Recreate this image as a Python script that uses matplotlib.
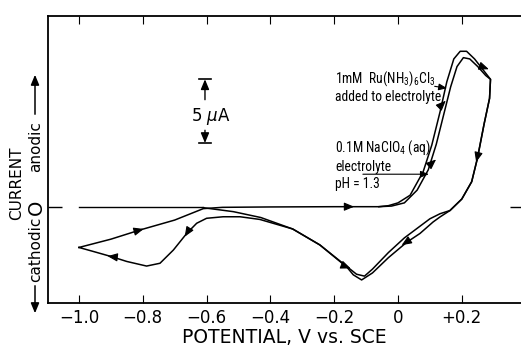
import matplotlib
matplotlib.use("Agg")
import matplotlib.pyplot as plt
from matplotlib import font_manager
import numpy as np

# ---------------- data (V vs SCE, microamps) ----------------
# Ru(NH3)6Cl3 added (outer loop), traced in sweep order
ru_v = [-1.0, -0.9, -0.809, -0.7, -0.61, -0.55, -0.4, -0.2, -0.06, -0.03, 0.0, 0.038, 0.079, 0.106,
        0.132, 0.153, 0.175, 0.195, 0.215, 0.24, 0.265, 0.29, 0.287, 0.27, 0.249, 0.231, 0.2,
        0.163, 0.132, 0.11, 0.069, 0.027, -0.03, -0.08, -0.114, -0.14, -0.16, -0.245, -0.33,
        -0.433, -0.495, -0.548, -0.6, -0.631, -0.662, -0.704, -0.746, -0.788, -0.85, -0.898,
        -0.95, -1.0]
ru_i = [-3.2, -2.55, -1.83, -1.05, -0.15, -0.05, -0.02, 0.0, 0.0, 0.08, 0.3, 0.9, 2.75, 4.84,
        7.46, 9.8, 11.6, 12.2, 12.2, 11.6, 10.8, 10.0, 8.5, 6.5, 3.8, 1.96, 0.6,
        -0.3, -0.8, -1.2, -2.1, -2.8, -4.0, -5.2, -5.75, -5.35, -4.75, -3.0, -1.75,
        -1.0, -0.79, -0.79, -0.91, -1.3, -2.09, -3.4, -4.44, -4.66, -4.3, -3.92,
        -3.55, -3.2]

# 0.1 M NaClO4 electrolyte only (inner loop)
bg_v = [-0.06, -0.02, 0.02, 0.06, 0.095, 0.12, 0.145, 0.165, 0.185, 0.205, 0.225, 0.25, 0.275,
        0.29, 0.287, 0.27, 0.249, 0.231, 0.2, 0.163, 0.132, 0.10, 0.06, 0.02, -0.03, -0.08,
        -0.105, -0.13, -0.16, -0.245, -0.33, -0.43, -0.516, -0.61]
bg_i = [0.0, 0.05, 0.3, 1.3, 2.9, 4.9, 7.4, 9.4, 11.0, 11.7, 11.6, 11.0, 10.3,
        10.0, 8.5, 6.5, 3.8, 1.96, 0.6, -0.3, -0.55, -0.95, -1.7, -2.45, -3.6, -4.9,
        -5.45, -5.3, -4.7, -3.0, -1.75, -0.85, -0.39, -0.08]

# zero-current segment at start of sweep
zero_v = [-1.0, -0.61]
zero_i = [0.0, 0.0]

# direction arrows on the traces: position and direction
arrow_x = [-0.15, 0.141, 0.11, 0.273, 0.248, 0.022, -0.16, -0.662, -0.898, -0.809]
arrow_y = [0.0, 8.1, 3.5, 10.9, 3.8, -2.85, -4.73, -2.09, -3.92, -1.83]
arrow_dx = [1.0, 0.1, 0.1, 0.1, -0.02, -0.1, 0.1, -0.05, -0.1, 0.1]
arrow_dy = [0.0, 2.5, 2.2, -0.9, -2.0, -1.6, -1.0, -2.0, 0.3, 0.7]

xticks = [-1.0, -0.8, -0.6, -0.4, -0.2, 0.0, 0.2]
xticklabels = ["\u22121.0", "\u22120.8", "\u22120.6", "\u22120.4", "\u22120.2", "0", "+0.2"]

label_ru = "1mM  Ru(NH$_3$)$_6$Cl$_3$\nadded to electrolyte"
label_bg = "0.1M NaClO$_4$ (aq)\nelectrolyte\npH = 1.3"

# pick the narrowest installed sans family for the curve labels
installed = {f.name for f in font_manager.fontManager.ttflist}
LABEL_FONT = "DejaVu Sans"
for cand in ["Liberation Sans Narrow", "DejaVu Sans Condensed", "Roboto Condensed",
             "Liberation Sans", "Roboto"]:
    if cand in installed:
        LABEL_FONT = cand
        break
plt.rcParams["mathtext.fontset"] = "custom"
plt.rcParams["mathtext.rm"] = LABEL_FONT
plt.rcParams["mathtext.it"] = LABEL_FONT
plt.rcParams["mathtext.bf"] = LABEL_FONT

# ---------------- figure ----------------
W, H = 521, 350
fig = plt.figure(figsize=(W / 100, H / 100), dpi=100)
ax = fig.add_axes([47.7 / W, 1 - 303 / H, 1 - 47.7 / W, (303 - 16) / H])
ax.set_xlim(-1.098, 0.3856)
ax.set_ylim(-7.56, 14.97)

lw = 1.1
ax.plot(ru_v, ru_i, color="black", lw=lw, solid_joinstyle="round")
ax.plot(bg_v, bg_i, color="black", lw=lw, solid_joinstyle="round")
ax.plot(zero_v, zero_i, color="black", lw=1.0)

# arrowheads
ysc = (14.97 + 7.56) / 287.0  # data per px (y)
xsc = (0.3856 + 1.098) / (521 - 47.7)  # data per px (x)
for x, y, dx, dy in zip(arrow_x, arrow_y, arrow_dx, arrow_dy):
    px, py = dx / xsc, dy / ysc
    n = np.hypot(px, py)
    ux, uy = px / n, py / n
    L = 4.0
    ax.annotate("", xy=(x + ux * L * xsc, y + uy * L * ysc),
                xytext=(x - ux * L * xsc, y - uy * L * ysc),
                arrowprops=dict(arrowstyle="-|>,head_length=0.6,head_width=0.25",
                                color="black", lw=0.8, shrinkA=0, shrinkB=0))

# spines / ticks
for s in ["left", "top", "bottom"]:
    ax.spines[s].set_linewidth(1.3)
ax.spines["right"].set_visible(False)
ax.set_xticks(xticks)
ax.set_xticklabels(xticklabels)
ax.tick_params(axis="x", direction="in", top=True, bottom=True, length=6, width=0.8,
               labelsize=12, pad=4)
ax.set_yticks([0])
ax.set_yticklabels([""])
ax.tick_params(axis="y", direction="in", left=True, right=True, width=1.0, length=10)
for t in ax.yaxis.get_major_ticks():
    t.tick2line.set_markersize(8)

ax.set_xlabel("POTENTIAL, V vs. SCE", fontsize=13.5, labelpad=1)

def fxy(px, py):
    return px / W, 1 - py / H

fig.text(*fxy(17, 183), "CURRENT", rotation=90, ha="center", va="center", fontsize=11)
fig.text(*fxy(36, 207), "O", rotation=90, ha="center", va="center", fontsize=14)
fig.text(*fxy(36, 249), "cathodic", rotation=90, ha="center", va="center", fontsize=11)
fig.text(*fxy(36, 147), "anodic", rotation=90, ha="center", va="center", fontsize=11)
fig.patches.append(matplotlib.patches.FancyArrowPatch(
    fxy(35, 283), fxy(35, 316), transform=fig.transFigure,
    arrowstyle="-|>,head_length=0.6,head_width=0.25", color="black", lw=1.1, mutation_scale=10))
fig.patches.append(matplotlib.patches.FancyArrowPatch(
    fxy(35, 117), fxy(35, 72), transform=fig.transFigure,
    arrowstyle="-|>,head_length=0.6,head_width=0.25", color="black", lw=1.1, mutation_scale=10))

# 5 uA scale bar
sb_x = -0.605
sb_lo, sb_hi = 5.0, 10.0
ax.plot([sb_x - 0.02, sb_x + 0.02], [sb_hi, sb_hi], color="black", lw=1.2)
ax.plot([sb_x - 0.02, sb_x + 0.02], [sb_lo, sb_lo], color="black", lw=1.2)
ax.annotate("", xy=(sb_x, sb_hi), xytext=(sb_x, 8.4),
            arrowprops=dict(arrowstyle="-|>,head_length=0.6,head_width=0.25", color="black",
                            lw=1.0, shrinkA=0, shrinkB=0))
ax.annotate("", xy=(sb_x, sb_lo), xytext=(sb_x, 6.0),
            arrowprops=dict(arrowstyle="-|>,head_length=0.6,head_width=0.25", color="black",
                            lw=1.0, shrinkA=0, shrinkB=0))
ax.text(-0.586, 7.1, "5 $\\mu$A", ha="center", va="center", fontsize=12, family="DejaVu Sans",
        math_fontfamily="dejavusans")

# curve labels
t1 = ax.text(-0.197, 9.4, label_ru, ha="left", va="center",
             fontsize=10, linespacing=1.2, family=LABEL_FONT)
t2 = ax.text(-0.197, 3.3, label_bg, ha="left", va="center",
             fontsize=10, linespacing=1.3, family=LABEL_FONT)
# size the labels so the widest line spans ~106 px as in the reference
fig.canvas.draw()
r = fig.canvas.get_renderer()
w1 = t1.get_window_extent(r).width
size = min(11.0, 10 * 106.0 / w1)
t1.set_fontsize(size)
t2.set_fontsize(size)

ax.annotate("", xy=(0.154, 9.3), xytext=(0.115, 9.45),
            arrowprops=dict(arrowstyle="-|>,head_length=0.5,head_width=0.2", color="black",
                            lw=0.8, shrinkA=0, shrinkB=0))
ax.annotate("", xy=(0.097, 2.55), xytext=(-0.11, 2.55),
            arrowprops=dict(arrowstyle="-|>,head_length=0.5,head_width=0.2", color="black",
                            lw=0.8, shrinkA=0, shrinkB=0))

fig.savefig("out.png", dpi=100)
